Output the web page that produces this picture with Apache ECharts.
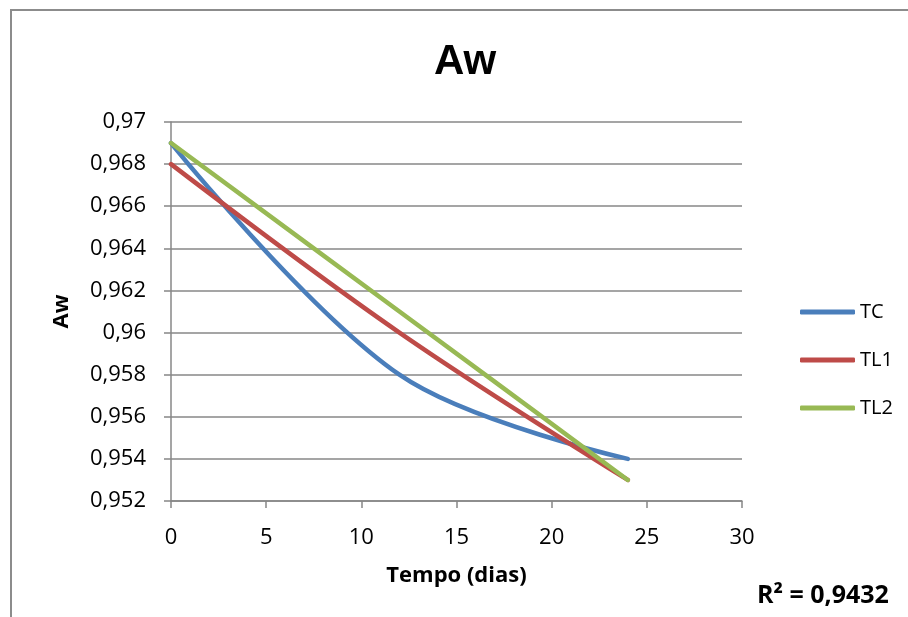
<!DOCTYPE html>
<html>
<head>
<meta charset="utf-8">
<script src="https://cdn.jsdelivr.net/npm/echarts@6/dist/echarts.min.js"></script>
<style>
	html, body { margin: 0; padding: 0; background: #fff; }
	#chart { width: 908px; height: 617px; }
</style>
</head>
<body>
<div id="chart"></div>
<script>
// dados
var dias = [0, 12, 24]
var tc = [0.969, 0.958, 0.954]
var tl1 = [0.968, 0.960, 0.953]
var tl2 = [0.969, 0.961, 0.953]
var nomes = ['TC', 'TL1', 'TL2']
var cores = ['#4A7EBB', '#BE4B48', '#98B954']

var fonte = '"Open Sans", Lato, sans-serif'

function pares(xs, ys) {
	return xs.map(function (x, i) { return [x, ys[i]] })
}

function serie(nome, valores, cor) {
	return {
		name: nome,
		type: 'line',
		smooth: 0.35,
		showSymbol: false,
		symbol: 'none',
		lineStyle: { width: 4.5, color: cor, cap: 'round' },
		itemStyle: { color: cor },
		data: pares(dias, valores)
	}
}

var chart = echarts.init(document.getElementById('chart'))

var option = {}
option.animation = false

option.title = {
	text: 'Aw',
	left: 460,
	textAlign: 'center',
	top: 36,
	textStyle: { fontFamily: '"Liberation Sans", Arial, sans-serif', fontSize: 42, fontWeight: 'bold', color: '#000' }
}

option.legend = {
	orient: 'vertical',
	left: 795,
	top: 297,
	itemWidth: 55,
	itemHeight: 5,
	itemGap: 28,
	icon: 'roundRect',
	textStyle: { fontFamily: fonte, fontSize: 20, color: '#000' },
	data: nomes
}

option.grid = {
	left: 171,
	right: 166,
	top: 122,
	bottom: 116,
	containLabel: false
}

option.xAxis = {
	type: 'value',
	min: 0,
	max: 30,
	interval: 5,
	name: 'Tempo (dias)',
	nameLocation: 'middle',
	nameGap: 64,
	nameTextStyle: { fontFamily: fonte, fontSize: 22, fontWeight: 'bold', color: '#000' },
	axisLine: { lineStyle: { color: '#878787', width: 1.5 } },
	axisTick: { show: true, inside: false, length: 7, lineStyle: { color: '#878787', width: 1.5 } },
	axisLabel: { fontFamily: fonte, fontSize: 22, color: '#000', margin: 26 },
	splitLine: { show: false }
}

option.yAxis = {
	type: 'value',
	min: 0.952,
	max: 0.97,
	interval: 0.002,
	name: 'Aw',
	nameLocation: 'middle',
	nameGap: 98,
	nameRotate: 90,
	nameTextStyle: { fontFamily: fonte, fontSize: 22, fontWeight: 'bold', color: '#000' },
	axisLine: { show: true, lineStyle: { color: '#878787', width: 1.5 } },
	axisTick: { show: true, inside: false, length: 7, lineStyle: { color: '#878787', width: 1.5 } },
	axisLabel: {
		fontFamily: fonte, fontSize: 22, color: '#000', margin: 25,
		formatter: function (v) {
			return String(parseFloat(v.toFixed(3))).replace('.', ',')
		}
	},
	splitLine: { show: true, lineStyle: { color: '#878787', width: 1.5 } }
}

option.graphic = [{
	type: 'polyline',
	shape: { points: [[11, 617], [11, 10], [908, 10]] },
	style: { stroke: '#8c8c8c', lineWidth: 2, fill: null }
}, {
	type: 'text',
	x: 757,
	y: 596,
	style: {
		text: 'R² = 0,9432',
		font: 'bold 25px ' + fonte,
		fill: '#000',
		verticalAlign: 'middle'
	}
}]

option.series = [
	serie(nomes[0], tc, cores[0]),
	serie(nomes[1], tl1, cores[1]),
	serie(nomes[2], tl2, cores[2])
]

chart.setOption(option)
</script>
</body>
</html>
